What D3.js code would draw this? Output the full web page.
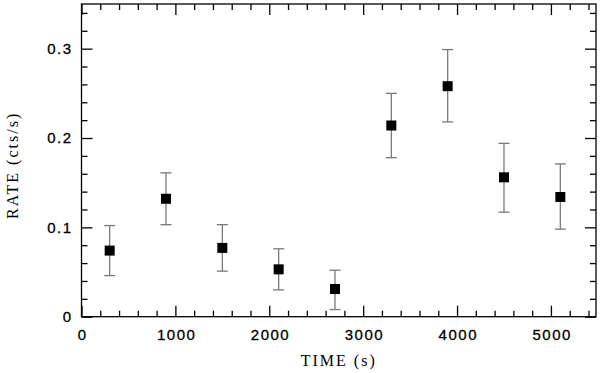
<!DOCTYPE html>
<html>
<head>
<meta charset="utf-8">
<script src="https://cdn.jsdelivr.net/npm/d3@7"></script>
<style>
  body { margin: 0; background: #fff; }
  svg { display: block; }
  .tick-label text { font-family: "Liberation Sans", Arial, sans-serif; font-size: 15px; fill: #000; stroke: #000; stroke-width: 0.3px; }
  .title { font-family: "Liberation Serif", "Times New Roman", serif; font-size: 16px; fill: #000; letter-spacing: 2px; }
</style>
</head>
<body>
<div id="chart"></div>
<script>
// bin centres (s) and count rate with 1-sigma bounds
var time = [300, 900, 1500, 2100, 2700, 3300, 3900, 4500, 5100],
  rate = [0.074, 0.132, 0.077, 0.053, 0.031, 0.214, 0.258, 0.156, 0.134],
  rateLo = [0.046, 0.103, 0.051, 0.030, 0.008, 0.178, 0.218, 0.117, 0.098],
  rateHi = [0.102, 0.161, 0.103, 0.076, 0.052, 0.250, 0.299, 0.194, 0.171];

var xMajor = [0, 1000, 2000, 3000, 4000, 5000],
  yMajor = [0, 0.1, 0.2, 0.3],
  yLabels = ['0', '0.1', '0.2', '0.3'];

var W = 600, H = 373,
  margin = {left: 81.5, right: 4, top: 4, bottom: 56.3},
  width = W - margin.left - margin.right,
  height = H - margin.top - margin.bottom;

var x = d3.scaleLinear().domain([0, 5480]).range([0, width]),
  y = d3.scaleLinear().domain([0, 0.35]).range([height, 0]);

var svg = d3.select('#chart').append('svg')
  .attr('width', W).attr('height', H);

var g = svg.append('g')
  .attr('transform', 'translate(' + margin.left + ',' + margin.top + ')');

var xMinor = d3.range(0, 5480, 200).filter(function(v) { return v % 1000; }),
  yMinor = d3.range(0, 0.35, 0.02).filter(function(v) { return Math.round(v * 100) % 10; });

function styleAxis(sel) {
  sel.select('.domain').remove();
  sel.selectAll('line').attr('stroke', '#000').attr('stroke-width', 1.3);
}

// minor ticks on all four sides
[[d3.axisBottom(x), 'translate(0,' + height + ')', xMinor],
 [d3.axisTop(x), null, xMinor],
 [d3.axisLeft(y), null, yMinor],
 [d3.axisRight(y), 'translate(' + width + ',0)', yMinor]].forEach(function(a) {
  g.append('g')
    .attr('transform', a[1])
    .call(a[0].tickValues(a[2]).tickSize(-6).tickFormat(''))
    .call(styleAxis);
});

// major ticks
g.append('g').attr('class', 'tick-label')
  .attr('transform', 'translate(0,' + height + ')')
  .call(d3.axisBottom(x).tickValues(xMajor).tickSize(-11).tickPadding(13).tickFormat(d3.format('d')))
  .call(styleAxis)
  .selectAll('text').style('letter-spacing', '1.5px').attr('dx', '0.75px');

g.append('g')
  .call(d3.axisTop(x).tickValues(xMajor).tickSize(-11).tickFormat(''))
  .call(styleAxis);

g.append('g').attr('class', 'tick-label')
  .call(d3.axisLeft(y).tickValues(yMajor).tickSize(-11).tickPadding(9)
    .tickFormat(function(d, i) { return yLabels[i]; }))
  .call(styleAxis)
  .selectAll('text').style('letter-spacing', '1.5px');

g.append('g')
  .attr('transform', 'translate(' + width + ',0)')
  .call(d3.axisRight(y).tickValues(yMajor).tickSize(-11).tickFormat(''))
  .call(styleAxis);

// frame
g.append('rect')
  .attr('width', width).attr('height', height)
  .attr('fill', 'none').attr('stroke', '#000').attr('stroke-width', 1.3);

// error bars
var bars = g.append('g').attr('stroke', '#7a7a7a').attr('stroke-width', 1.3)
  .selectAll('g').data(time).enter().append('g');

bars.append('line')
  .attr('x1', function(d) { return x(d); })
  .attr('x2', function(d) { return x(d); })
  .attr('y1', function(d, i) { return y(rateLo[i]); })
  .attr('y2', function(d, i) { return y(rateHi[i]); });

[rateLo, rateHi].forEach(function(arr) {
  bars.append('line')
    .attr('x1', function(d) { return x(d) - 5.5; })
    .attr('x2', function(d) { return x(d) + 5.5; })
    .attr('y1', function(d, i) { return y(arr[i]); })
    .attr('y2', function(d, i) { return y(arr[i]); });
});

// points
g.append('g').selectAll('rect')
  .data(time).enter().append('rect')
  .attr('x', function(d) { return x(d) - 5; })
  .attr('y', function(d, i) { return y(rate[i]) - 5; })
  .attr('width', 10).attr('height', 10)
  .attr('fill', '#000');

// axis titles
svg.append('text').attr('class', 'title')
  .attr('x', margin.left + width / 2).attr('y', 366)
  .attr('text-anchor', 'middle')
  .text('TIME (s)');

svg.append('text').attr('class', 'title')
  .attr('transform', 'translate(18,' + (margin.top + height / 2 + 5) + ') rotate(-90)')
  .attr('text-anchor', 'middle')
  .text('RATE (cts/s)');
</script>
</body>
</html>
